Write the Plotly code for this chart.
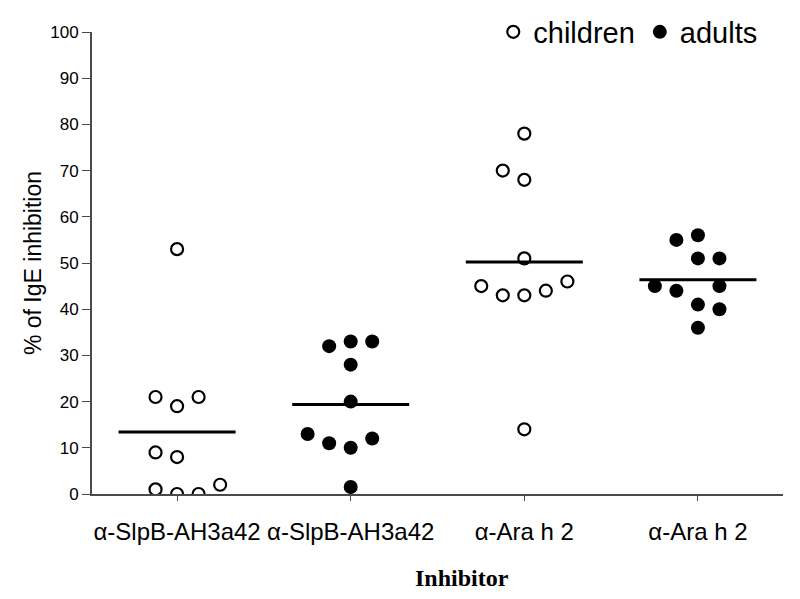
"""Dot plot: % of IgE inhibition per inhibitor, children vs adults, with group means."""

import plotly.graph_objects as go

# --- data -------------------------------------------------------------
inhibitors = ["α-SlpB-AH3a42", "α-SlpB-AH3a42", "α-Ara h 2", "α-Ara h 2"]
populations = ["children", "adults", "children", "adults"]

children_slpb = [53, 21, 19, 21, 9, 8, 1, 0, 0, 2]
adults_slpb = [32, 33, 33, 28, 20, 13, 11, 10, 12, 1.5]
children_arah2 = [78, 70, 68, 51, 45, 43, 43, 44, 46, 14]
adults_arah2 = [55, 56, 51, 51, 45, 44, 45, 41, 40, 36]

group_values = [children_slpb, adults_slpb, children_arah2, adults_arah2]

# --- layout of the swarm (column slot of each point, left/right of centre) ---
slots = [
    [0, -1, 0, 1, -1, 0, -1, 0, 1, 2],
    [-1, 0, 1, 0, 0, -2, -1, 0, 1, 0],
    [0, -1, 0, 0, -2, -1, 0, 1, 2, 0],
    [-1, 0, 0, 1, -2, -1, 1, 0, 1, 0],
]
SLOT_W = 0.124
MEAN_HALF = 0.337
AXIS_COLOR = "#4a4a4a"
FONT = "Liberation Sans, Arial, sans-serif"

fig = go.Figure()
shown = set()
for i, (vals, pop) in enumerate(zip(group_values, populations)):
    xs = [i + s * SLOT_W for s in slots[i]]
    if pop == "children":
        marker = dict(symbol="circle-open", size=12, color="black", line=dict(width=2.2, color="black"))
    else:
        marker = dict(symbol="circle", size=14, color="black")
    fig.add_trace(go.Scatter(
        x=xs, y=vals, mode="markers", marker=marker,
        name=pop, showlegend=pop not in shown, legendgroup=pop,
    ))
    shown.add(pop)
    mean = sum(vals) / len(vals)
    fig.add_trace(go.Scatter(
        x=[i - MEAN_HALF, i + MEAN_HALF], y=[mean, mean], mode="lines",
        line=dict(color="black", width=3), showlegend=False, hoverinfo="skip",
    ))

# x title sits a little right of centre in the original
fig.add_annotation(
    text="<b>Inhibitor</b>", xref="paper", yref="paper", x=0.535, y=-0.182,
    xanchor="center", yanchor="middle", showarrow=False,
    font=dict(size=24, family="Liberation Serif, Times New Roman, serif", color="black"),
)

# page body adds ~8px offset, so the figure is drawn slightly smaller
fig.update_layout(
    width=792, height=591,
    margin=dict(l=84, r=17, t=24, b=105, autoexpand=False),
    paper_bgcolor="white", plot_bgcolor="white",
    font=dict(family=FONT, color="black"),
    legend=dict(
        orientation="h", x=0.97, xanchor="right", y=1.0, yanchor="middle",
        font=dict(size=29, color="black"), bgcolor="rgba(0,0,0,0)",
        itemwidth=30, tracegroupgap=0,
    ),
    xaxis=dict(
        range=[-0.49, 3.49], tickmode="array", tickvals=[0, 1, 2, 3], ticktext=inhibitors,
        showline=True, linecolor=AXIS_COLOR, linewidth=2, ticks="outside", ticklen=5,
        tickcolor=AXIS_COLOR, showgrid=False, zeroline=False, automargin=False,
        tickfont=dict(size=24, family=FONT), ticklabelstandoff=10,
    ),
    yaxis=dict(
        range=[0, 100], tickmode="linear", tick0=0, dtick=10,
        showline=True, linecolor=AXIS_COLOR, linewidth=2, ticks="outside", ticklen=8,
        tickcolor=AXIS_COLOR, showgrid=False, zeroline=False, automargin=False,
        tickfont=dict(size=17, family=FONT),
        title=dict(text="% of IgE inhibition", font=dict(size=23, family=FONT), standoff=2),
    ),
)

fig.write_html("out.html")
